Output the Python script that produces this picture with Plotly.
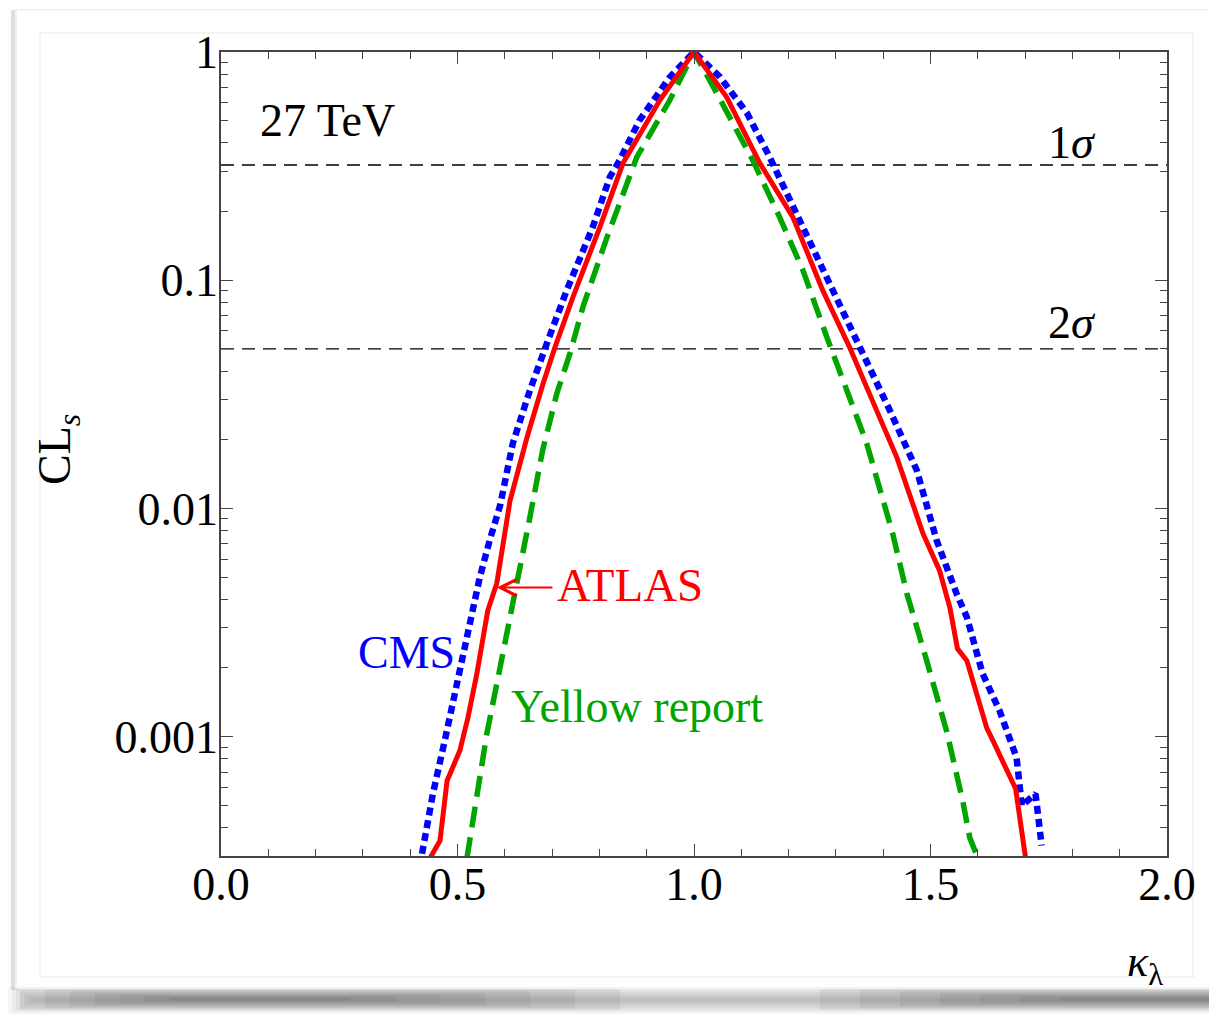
import numpy as np
import plotly.graph_objects as go

# CLs versus kappa_lambda at 27 TeV
atlas_k = [0.442, 0.463, 0.478, 0.505, 0.522, 0.541, 0.564, 0.583, 0.611, 0.647, 0.681, 0.706,
           0.744, 0.801, 0.850, 0.928, 1.000, 1.069, 1.139, 1.209, 1.272, 1.329, 1.386, 1.429,
           1.484, 1.519, 1.541, 1.557, 1.577, 1.619, 1.632, 1.680, 1.701]
atlas_cls = [2.94e-4, 3.50e-4, 6.41e-4, 8.69e-4, 1.21e-3, 1.89e-3, 3.57e-3, 4.69e-3, 1.08e-2,
             2.05e-2, 3.53e-2, 5.08e-2, 8.42e-2, 0.171, 0.326, 0.616, 1.0, 0.635, 0.326, 0.189,
             0.0904, 0.0508, 0.0269, 0.0167, 7.77e-3, 5.35e-3, 3.68e-3, 2.43e-3, 2.15e-3,
             1.09e-3, 9.6e-4, 5.91e-4, 2.94e-4]

cms_k = [0.425, 0.448, 0.473, 0.495, 0.516, 0.547, 0.568, 0.590, 0.617, 0.653, 0.689, 0.731,
         0.786, 0.822, 0.843, 0.885, 0.949, 1.000, 1.055, 1.112, 1.160, 1.230, 1.302, 1.357,
         1.414, 1.471, 1.513, 1.555, 1.577, 1.610, 1.646, 1.682, 1.693, 1.722, 1.735]
cms_cls = [3.07e-4, 5.62e-4, 9.6e-4, 1.55e-3, 2.38e-3, 4.98e-3, 7.24e-3, 1.03e-2, 1.93e-2,
           3.29e-2, 5.29e-2, 0.0904, 0.171, 0.283, 0.336, 0.503, 0.777, 1.0, 0.777, 0.540,
           0.346, 0.171, 0.0842, 0.0493, 0.0269, 0.0147, 7.24e-3, 4.24e-3, 3.33e-3, 1.89e-3,
           1.30e-3, 8.09e-4, 4.98e-4, 5.62e-4, 3.33e-4]

yr_k = [0.520, 0.541, 0.562, 0.590, 0.626, 0.653, 0.680, 0.710, 0.738, 0.765, 0.816, 0.879,
        0.949, 1.000, 1.048, 1.124, 1.181, 1.230, 1.281, 1.323, 1.365, 1.420, 1.450, 1.492,
        1.534, 1.568, 1.583, 1.600]
yr_cls = [2.94e-4, 5.62e-4, 1.03e-3, 2.01e-3, 4.69e-3, 9.14e-3, 0.0180, 0.0319, 0.0479, 0.0762,
          0.154, 0.346, 0.616, 1.0, 0.661, 0.336, 0.189, 0.111, 0.0562, 0.0329, 0.0193,
          7.77e-3, 4.24e-3, 2.15e-3, 1.06e-3, 5.24e-4, 3.61e-4, 2.94e-4]

sigma_levels = [0.32, 0.05]
sigma_labels = ["1<i>σ</i>", "2<i>σ</i>"]

x_ticks = [0.0, 0.5, 1.0, 1.5, 2.0]
x_ticktext = ["0.0", "0.5", "1.0", "1.5", "2.0"]
y_ticks = [1e-3, 1e-2, 1e-1, 1.0]
y_ticktext = ["0.001", "0.01", "0.1", "1"]
y_min = 3e-4

FONT = "Liberation Serif, Times New Roman, serif"
RED, BLUE, GREEN = "#ff0000", "#0000ff", "#00a500"

W, H = 1209, 1021
L, R, T, B = 221, 1167, 52, 856


def px(xp):
    return (xp - L) / (R - L)


def py(yp):
    return (B - yp) / (B - T)


fig = go.Figure()

# reference confidence levels
for lvl in sigma_levels:
    fig.add_trace(go.Scatter(x=[0, 2], y=[lvl, lvl], mode="lines",
                             line=dict(color="black", width=1.4, dash="13px,8px"),
                             hoverinfo="skip", showlegend=False))

fig.add_trace(go.Scatter(x=yr_k, y=yr_cls, mode="lines", name="Yellow report",
                         line=dict(color=GREEN, width=5.5, dash="21px,10px"), showlegend=False))
fig.add_trace(go.Scatter(x=cms_k, y=cms_cls, mode="lines", name="CMS",
                         line=dict(color=BLUE, width=6.5, dash="8px,5px"), showlegend=False))
fig.add_trace(go.Scatter(x=atlas_k, y=atlas_cls, mode="lines", name="ATLAS",
                         line=dict(color=RED, width=5), showlegend=False))

minor_y = [m * 10.0 ** e for e in range(-4, 0) for m in range(2, 10) if m * 10.0 ** e >= y_min]

axis_common = dict(showline=True, linecolor="#444444", linewidth=1.5, mirror="allticks",
                   ticks="inside", ticklen=12, tickwidth=1.3, tickcolor="#444444",
                   showgrid=False, zeroline=False,
                   tickfont=dict(family=FONT, size=46, color="black"))

fig.update_xaxes(range=[0, 2], tickvals=x_ticks, ticktext=x_ticktext, ticklabelstandoff=-13,
                 minor=dict(dtick=0.1, ticks="inside", ticklen=7, tickcolor="#444444",
                            tickwidth=1.2, showgrid=False),
                 **axis_common)
fig.update_yaxes(type="log", range=[np.log10(y_min), 0], tickvals=y_ticks, ticktext=y_ticktext,
                 ticklabelstandoff=-8,
                 minor=dict(tickvals=minor_y, ticks="inside", ticklen=7, tickcolor="#444444",
                            tickwidth=1.2, showgrid=False),
                 **axis_common)

ann = []


def label(x, y, text, color="black", xanchor="left", size=46, **kw):
    ann.append(dict(x=x, y=y, xref="x", yref="y", text=text, showarrow=False,
                    xanchor=xanchor, yanchor="middle",
                    font=dict(family=FONT, size=size, color=color), **kw))


label(0.078, np.log10(0.50), "27 TeV")
label(1.854, np.log10(0.40), sigma_labels[0], xanchor="right")
label(1.854, np.log10(0.065), sigma_labels[1], xanchor="right")
label(0.706, np.log10(4.6e-3), "ATLAS", color=RED, size=47)
label(0.499, np.log10(2.33e-3), "CMS", color=BLUE, xanchor="right")
label(0.608, np.log10(1.36e-3), "Yellow report", color=GREEN)

# arrow pointing from the ATLAS label to its curve
ann.append(dict(x=0.583, y=np.log10(4.5e-3), xref="x", yref="y",
                ax=0.705, ay=np.log10(4.5e-3), axref="x", ayref="y",
                text=" ", showarrow=True, arrowhead=5, arrowsize=1.6, arrowwidth=2,
                arrowcolor=RED, standoff=0, startstandoff=0, font=dict(size=2)))

# axis titles
ann.append(dict(x=px(58), y=py(450), xref="paper", yref="paper", text="CL<sub><i>s</i></sub>",
                showarrow=False, textangle=-90, xanchor="center", yanchor="middle",
                font=dict(family=FONT, size=46, color="black")))
ann.append(dict(x=px(1145), y=py(964), xref="paper", yref="paper",
                text="<i>κ</i><sub>λ</sub>", showarrow=False, xanchor="center", yanchor="middle",
                font=dict(family=FONT, size=44, color="black")))

# card frame with a soft drop shadow underneath (stacked translucent layers)
shapes = []


def soft(x0, x1, y0, y1, op):
    shapes.append(dict(type="rect", xref="paper", yref="paper", layer="below",
                       x0=px(x0), x1=px(x1), y0=py(y1), y1=py(y0),
                       fillcolor=f"rgba(50,50,50,{op})", line=dict(width=0)))


for k in range(7):
    soft(8 + k * 4, 1240, 986 + k * 2, 1014 - k * 2, 0.05)
    soft(20 + k * 25, 620 - k * 45, 988 + k * 1.6, 1010 - k * 1.6, 0.07)
    soft(820 + k * 40, 1240, 988 + k * 1.6, 1010 - k * 1.6, 0.07)

shapes.append(dict(type="rect", xref="paper", yref="paper", layer="below",
                   x0=px(11), x1=px(20), y0=py(990), y1=py(10),
                   fillcolor="rgba(150,150,150,0.30)", line=dict(width=0)))
shapes.append(dict(type="rect", xref="paper", yref="paper", layer="below",
                   x0=px(16), x1=px(1230), y0=py(988), y1=py(10),
                   fillcolor="white", line=dict(color="#f2f2f2", width=2)))
shapes.append(dict(type="rect", xref="paper", yref="paper", layer="below",
                   x0=px(40), x1=px(1193), y0=py(977), y1=py(33),
                   fillcolor="white", line=dict(color="#f1f1f1", width=1.5)))

fig.update_layout(width=W, height=H, margin=dict(l=L, r=W - R, t=T, b=H - B),
                  paper_bgcolor="white", plot_bgcolor="white",
                  annotations=ann, shapes=shapes, showlegend=False)

fig.write_html("out.html")
